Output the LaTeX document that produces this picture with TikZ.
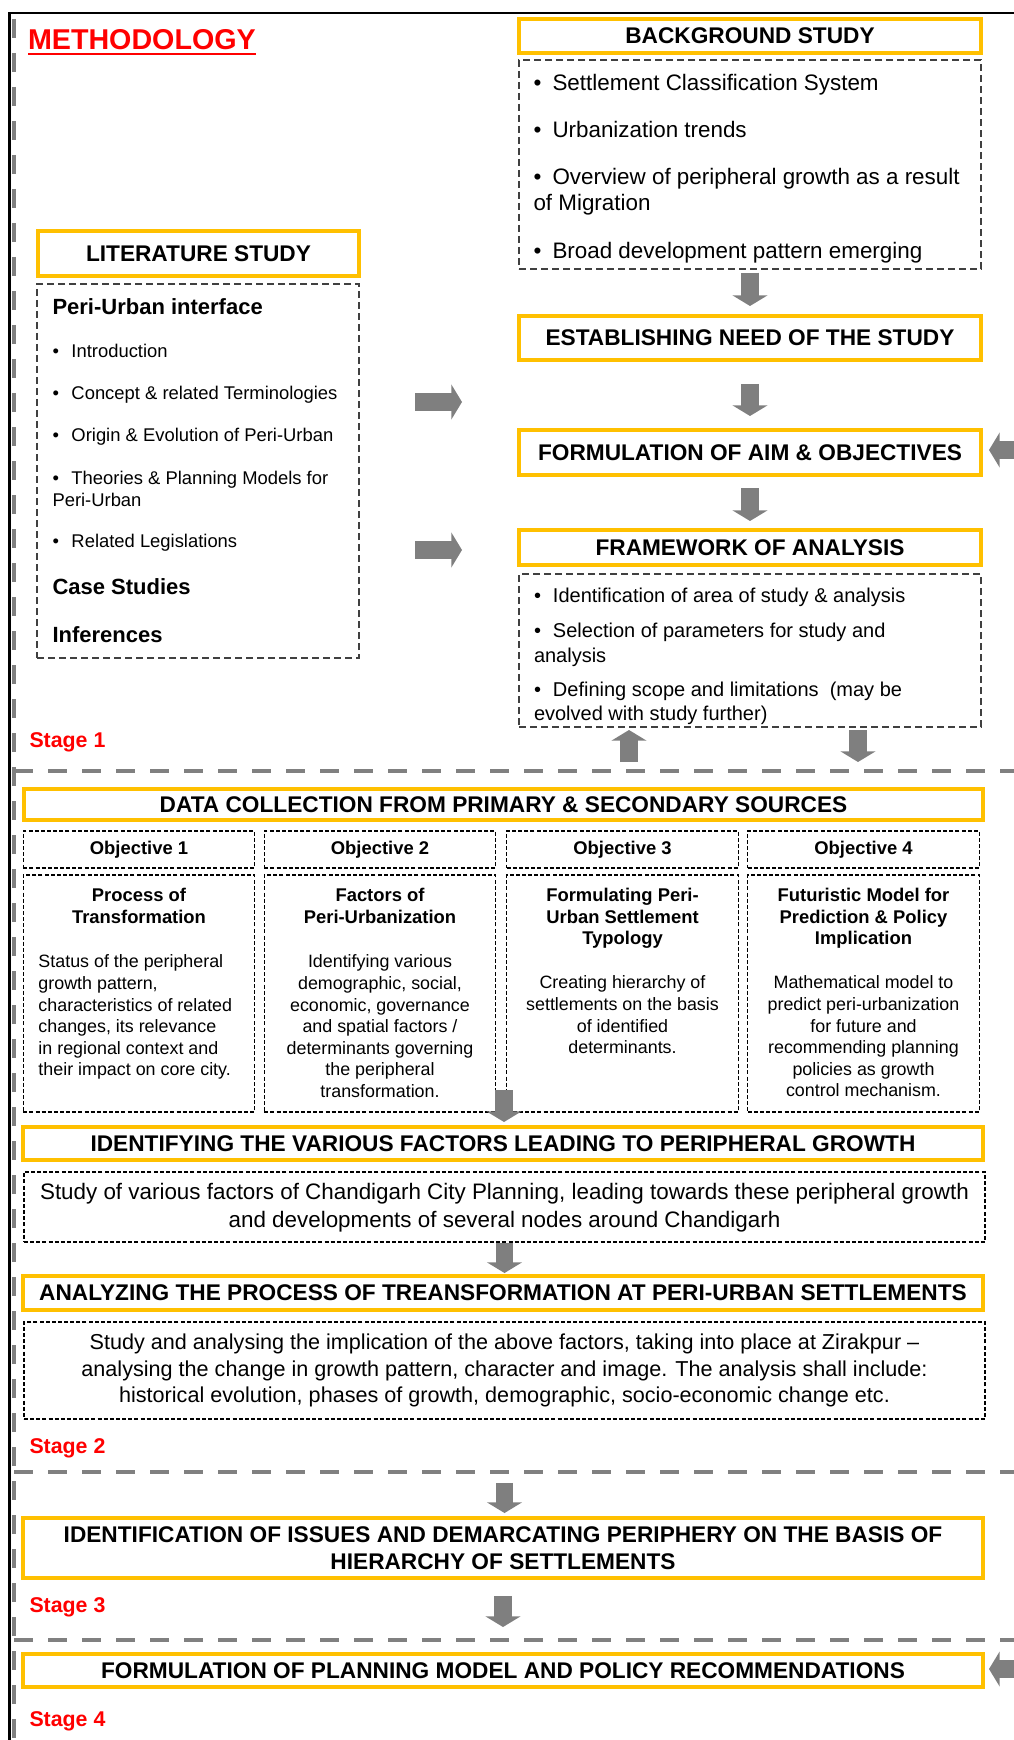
\documentclass[tikz,border=0pt]{standalone}
\usepackage{fontspec}
\setmainfont{Liberation Sans}
\usetikzlibrary{arrows.meta}
\newdimen\pxu \pxu=0.75pt
\definecolor{boxyellow}{HTML}{FFC000}
\definecolor{flowgray}{HTML}{7F7F7F}
\newcommand\itm{\makebox[19\pxu][l]{•}}
\newcommand\ulhead[1]{\setbox0\hbox{#1}\rlap{\rule[-4.9\pxu]{\wd0}{2.3\pxu}}\box0}
\tikzset{every picture/.style={line width=0.75pt},
  ybox/.style={draw=boxyellow, line width=3pt, inner sep=0pt, align=center, font=\fontsize{17}{20.25}\selectfont\bfseries},
  dbox/.style={draw=black!75, line width=1.1pt, dash pattern=on 5.25pt off 3pt, inner sep=0pt},
  obox/.style={draw=black, line width=1.1pt, dash pattern=on 3pt off 1.6pt, inner sep=0pt, align=center, font=\fontsize{13.8}{16.5}\selectfont\bfseries},
  cbox/.style={obox, font=\fontsize{16.8}{21}\selectfont},
  boxsize/.style 2 args={minimum width=#1*\pxu, minimum height=#2*\pxu},
  txt/.style={inner sep=0pt, align=left},
  objhead/.style={inner sep=0pt, align=center, anchor=north, font=\fontsize{13.8}{16.3}\selectfont\bfseries},
  objbody/.style={inner sep=0pt, align=center, anchor=north, font=\fontsize{13.4}{16.2}\selectfont},
  stagelbl/.style={inner sep=0pt, anchor=base west, text=red, font=\fontsize{16}{18}\selectfont\bfseries},
  flow/.style={draw=flowgray, line width=13pt, -{Triangle[width=26pt,length=8pt]}},
  stageline/.style={draw=black!50, line width=3.4pt, dash pattern=on 14.25pt off 11.25pt}
}
\begin{document}
\begin{tikzpicture}[x=0.75pt,y=0.75pt,yscale=-1,xscale=1]
\useasboundingbox (0,0) rectangle (1013,1740);
%Straight Lines (outer frame)
\draw[line width=1.9pt] (9.5,1745) -- (9.5,13) -- (1020,13);
%Straight Lines (stage frames)
\draw[stageline] (14,19) -- (14,1745);
\draw[stageline] (14,771) -- (1020,771);
\draw[stageline] (14,1472) -- (1020,1472);
\draw[stageline] (14,1640) -- (1020,1640);

% Text Node
\node[txt, anchor=base west, text=red, font=\fontsize{21.5}{24}\selectfont\bfseries] (title) at (27.5,50) {\ulhead{METHODOLOGY}};

%Shape: Rectangle (literature)
\node[ybox, boxsize={321}{45}] (lit) at (198.5,253.5) {LITERATURE STUDY};
\node[dbox, boxsize={322}{374}] (litc) at (198,471) {};
% Text Node
\node[txt, anchor=north west, font=\fontsize{13.8}{16.5}\selectfont] (litt) at (52,298) {{\fontsize{16.5}{16.5}\selectfont\bfseries Peri-Urban interface}\\[21.5\pxu]
\itm Introduction\\[20\pxu]
\itm Concept \& related Terminologies\\[20\pxu]
\itm Origin \& Evolution of Peri-Urban\\[21\pxu]
\itm Theories \& Planning Models for\\
Peri-Urban\\[19\pxu]
\itm Related Legislations\\[24.5\pxu]
{\fontsize{16.5}{16.5}\selectfont\bfseries Case Studies}\\[26\pxu]
{\fontsize{16.5}{16.5}\selectfont\bfseries Inferences}};

%Shape: Rectangle (background)
\node[ybox, boxsize={462}{34}] (bg) at (750,36) {BACKGROUND STUDY};
\node[dbox, boxsize={462}{209}] (bgc) at (750,164.5) {};
% Text Node
\node[txt, anchor=north west, font=\fontsize{16.8}{19.5}\selectfont] (bgt) at (533,74) {\itm Settlement Classification System\\[21\pxu]
\itm Urbanization trends\\[21\pxu]
\itm Overview of peripheral growth as a result\\
of Migration\\[22\pxu]
\itm Broad development pattern emerging};

\node[ybox, boxsize={462}{44}] (need) at (750,338) {ESTABLISHING NEED OF THE STUDY};
\node[ybox, boxsize={462}{45}] (aim) at (750,452.5) {FORMULATION OF AIM \& OBJECTIVES};
\node[ybox, boxsize={462}{35}] (frame) at (750,547.5) {FRAMEWORK OF ANALYSIS};
\node[dbox, boxsize={462}{153}] (framec) at (750,650.5) {};
% Text Node
\node[txt, anchor=north west, font=\fontsize{15}{18.4}\selectfont] (framet) at (533.5,587.5) {\itm Identification of area of study \& analysis\\[10.5\pxu]
\itm Selection of parameters for study and\\
analysis\\[9.5\pxu]
\itm Defining scope and limitations~ (may be\\
evolved with study further)};

\node[stagelbl] (s1) at (29,747) {Stage 1};

%Shape: Rectangle (stage 2)
\node[ybox, boxsize={959}{31}] (data) at (503.5,804.5) {DATA COLLECTION FROM PRIMARY \& SECONDARY SOURCES};
\foreach \i/\x in {1/139,2/380,3/622.5,4/863.5}{
  \node[obox, boxsize={231.5}{37}] (ob\i) at (\x,849.5) {Objective \i};
  \node[obox, boxsize={231.5}{237}] (obb\i) at (\x,993.5) {};
}
% Text Node
\node[objhead] (oh1) at (139,887.5) {Process of\\Transformation};
\node[txt, anchor=north west, font=\fontsize{13.4}{16.2}\selectfont] (ot1) at (38,954.5) {Status of the peripheral\\growth pattern,\\characteristics of related\\changes, its relevance\\in regional context and\\their impact on core city.};
\node[objhead] (oh2) at (380,887.5) {Factors of\\Peri-Urbanization};
\node[objbody] (ot2) at (380,954.5) {Identifying various\\demographic, social,\\economic, governance\\and spatial factors /\\determinants governing\\the peripheral\\transformation.};
\node[objhead] (oh3) at (622.5,887.5) {Formulating Peri-\\Urban Settlement\\Typology};
\node[objbody] (ot3) at (622.5,975.5) {Creating hierarchy of\\settlements on the basis\\of identified\\determinants.};
\node[objhead] (oh4) at (863.5,887.5) {Futuristic Model for\\Prediction \& Policy\\Implication};
\node[objbody] (ot4) at (863.5,975.5) {Mathematical model to\\predict peri-urbanization\\for future and\\recommending planning\\policies as growth\\control mechanism.};

\node[ybox, boxsize={960}{33}] (ident) at (503,1143.5) {IDENTIFYING THE VARIOUS FACTORS LEADING TO PERIPHERAL GROWTH};
\node[cbox, boxsize={961}{70}] (identc) at (504.5,1207) {\rule{0pt}{17\pxu}Study of various factors of Chandigarh City Planning, leading towards these peripheral growth\\and developments of several nodes around Chandigarh};
\node[ybox, boxsize={960}{34}] (anal) at (503,1293) {ANALYZING THE PROCESS OF TREANSFORMATION AT PERI-URBAN SETTLEMENTS};
\node[cbox, boxsize={961}{97}, font=\fontsize{16.2}{19.9}\selectfont] (analc) at (504.5,1370.5) {Study and analysing the implication of the above factors, taking into place at Zirakpur --\\analysing the change in growth pattern, character and image. The analysis shall include:\\historical evolution, phases of growth, demographic, socio-economic change etc.};
\node[stagelbl] (s2) at (29,1453) {Stage 2};

%Shape: Rectangle (stage 3 and 4)
\node[ybox, boxsize={960}{60}] (issues) at (503,1548) {IDENTIFICATION OF ISSUES AND DEMARCATING PERIPHERY ON THE BASIS OF\\HIERARCHY OF SETTLEMENTS};
\node[stagelbl] (s3) at (29,1612) {Stage 3};
\node[ybox, boxsize={960}{33}] (plan) at (503,1670.5) {FORMULATION OF PLANNING MODEL AND POLICY RECOMMENDATIONS};
\node[stagelbl] (s4) at (29,1726) {Stage 4};

%Block Arrows
\coordinate (lit1) at (462,402);
\coordinate (lit2) at (462,550);
\draw[flow, shorten <=41.6pt] (litc.east |- lit1) -- (lit1);
\draw[flow, shorten <=41.6pt] (litc.east |- lit2) -- (lit2);
\draw[flow, shorten <=2.25pt, shorten >=6pt] (bgc.south) -- (need.north);
\draw[flow, shorten <=16.5pt, shorten >=9pt] (need.south) -- (aim.north);
\draw[flow, shorten <=8.25pt, shorten >=5.25pt] (aim.south) -- (frame.north);
\coordinate (aimin) at (1040,450);
\draw[flow, shorten >=4.5pt] (aimin) -- (aimin -| aim.east);
\coordinate (fbup) at (629,762);
\draw[flow, shorten >=1.7pt] (fbup) -- (fbup |- framec.south);
\coordinate (fbdown) at (858,762);
\draw[flow, shorten <=1.7pt] (fbdown |- framec.south) -- (fbdown);
\coordinate (objout) at (504,1090);
\draw[flow, shorten >=2.25pt] (objout) -- (objout |- ident.north);
\draw[flow, shorten >=0.75pt] (identc.south) -- (identc.south |- anal.north);
\draw[flow, shorten <=47.25pt, shorten >=2.25pt] (analc.south) -- (analc.south |- issues.north);
\draw[flow, shorten <=12pt, shorten >=18.75pt] (issues.south) -- (issues.south |- plan.north);
\coordinate (planin) at (1040,1669);
\draw[flow, shorten >=3pt] (planin) -- (planin -| plan.east);
\end{tikzpicture}
\end{document}
